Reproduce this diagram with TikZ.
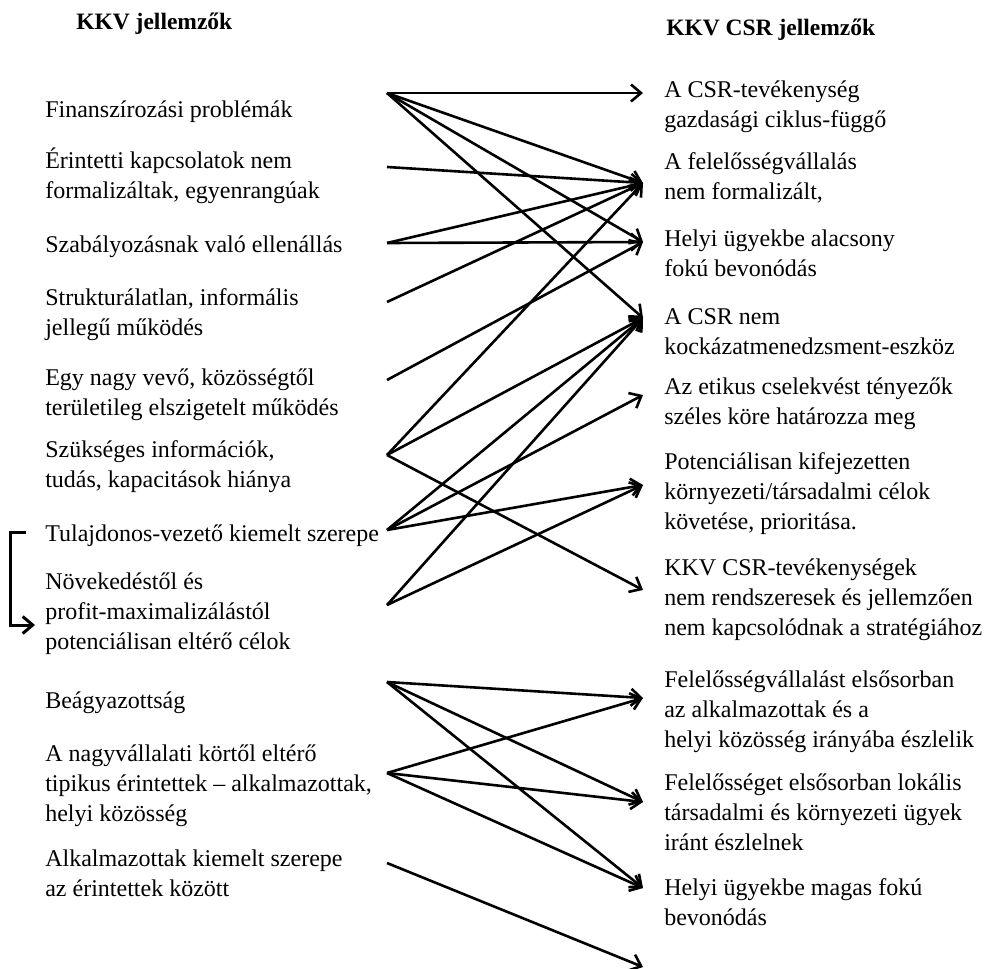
\documentclass[tikz,border=0pt]{standalone}
\usepackage{fontspec}
\setmainfont{Liberation Serif}
\usetikzlibrary{arrows.meta}

\begin{document}
\begin{tikzpicture}[x=1pt,y=-1pt,line width=2.6pt,
    >={Straight Barb[length=10pt,width=17pt]},
    txt/.style={anchor=north west,inner sep=0pt,align=left,
      font=\fontsize{24}{30}\selectfont},
    head/.style={anchor=base west,inner sep=0pt,
      font=\fontsize{23.5}{29}\selectfont\bfseries}]
   \useasboundingbox (0,0) rectangle (991,969);
   % headings
   \node[head] (hl) at (75,29) {KKV jellemzők};
   \node[head] (hr) at (665,35) {KKV CSR jellemzők};
   % left column
   \node[txt] (l1)  at (44,95)  {\strut Finanszírozási problémák};
   \node[txt] (l2)  at (44,146) {\strut Érintetti kapcsolatok nem\\formalizáltak, egyenrangúak};
   \node[txt] (l3)  at (44,230) {\strut Szabályozásnak való ellenállás};
   \node[txt] (l4)  at (44,283) {\strut Strukturálatlan, informális\\jellegű működés};
   \node[txt] (l5)  at (44,363) {\strut Egy nagy vevő, közösségtől\\területileg elszigetelt működés};
   \node[txt] (l6)  at (44,435) {\strut Szükséges információk,\\tudás, kapacitások hiánya};
   \node[txt] (l7)  at (44,519) {\strut Tulajdonos-vezető kiemelt szerepe};
   \node[txt] (l8)  at (44,567) {\strut Növekedéstől és\\profit-maximalizálástól\\potenciálisan eltérő célok};
   \node[txt] (l9)  at (44,686) {\strut Beágyazottság};
   \node[txt] (l10) at (44,739) {\strut A nagyvállalati körtől eltérő\\tipikus érintettek -- alkalmazottak,\\helyi közösség};
   \node[txt] (l11) at (44,844) {\strut Alkalmazottak kiemelt szerepe\\az érintettek között};
   % right column
   \node[txt] (r1)  at (663,75)  {\strut A CSR-tevékenység\\gazdasági ciklus-függő};
   \node[txt] (r2)  at (663,147) {\strut A felelősségvállalás\\nem formalizált,};
   \node[txt] (r3)  at (663,224) {\strut Helyi ügyekbe alacsony\\fokú bevonódás};
   \node[txt] (r4)  at (663,302) {\strut A CSR nem\\kockázatmenedzsment-eszköz};
   \node[txt] (r5)  at (663,372) {\strut Az etikus cselekvést tényezők\\széles köre határozza meg};
   \node[txt] (r6)  at (663,447) {\strut Potenciálisan kifejezetten\\környezeti/társadalmi célok\\követése, prioritása.};
   \node[txt] (r7)  at (663,553) {\strut KKV CSR-tevékenységek\\nem rendszeresek és jellemzően\\nem kapcsolódnak a stratégiához};
   \node[txt] (r8)  at (663,665) {\strut Felelősségvállalást elsősorban\\az alkalmazottak és a\\helyi közösség irányába észlelik};
   \node[txt] (r9)  at (663,768) {\strut Felelősséget elsősorban lokális\\társadalmi és környezeti ügyek\\iránt észlelnek};
   \node[txt] (r10) at (663,873) {\strut Helyi ügyekbe magas fokú\\bevonódás};
   % arrow ends
   \foreach \y [count=\i] in {93,167,243,302,380,455,530,605,682,773,863}
      \coordinate (s\i) at (387,\y);
   \foreach \y [count=\i] in {93,183,242,318,395,485,590,698,802,888,967}
      \coordinate (t\i) at (643,\y);
   \path[->]
    (s1) edge (t1) edge (t2) edge (t3) edge (t4)
    (s2) edge (t2)
    (s3) edge (t2) edge (t3)
    (s4) edge (t2)
    (s5) edge (t3)
    (s6) edge (t2) edge (t4) edge (t7)
    (s7) edge (t4) edge (t5) edge (t6)
    (s8) edge (t4) edge (t6)
    (s9) edge (t8) edge (t9) edge (t10)
    (s10) edge (t8) edge (t9) edge (t10)
    (s11) edge (t11);
   % bracket
   \coordinate (b1) at (26,532);
   \coordinate (b2) at (35,625);
   \draw[->,line width=3pt] (b1) -- ++(-16,0) |- (b2);
\end{tikzpicture}
\end{document}
